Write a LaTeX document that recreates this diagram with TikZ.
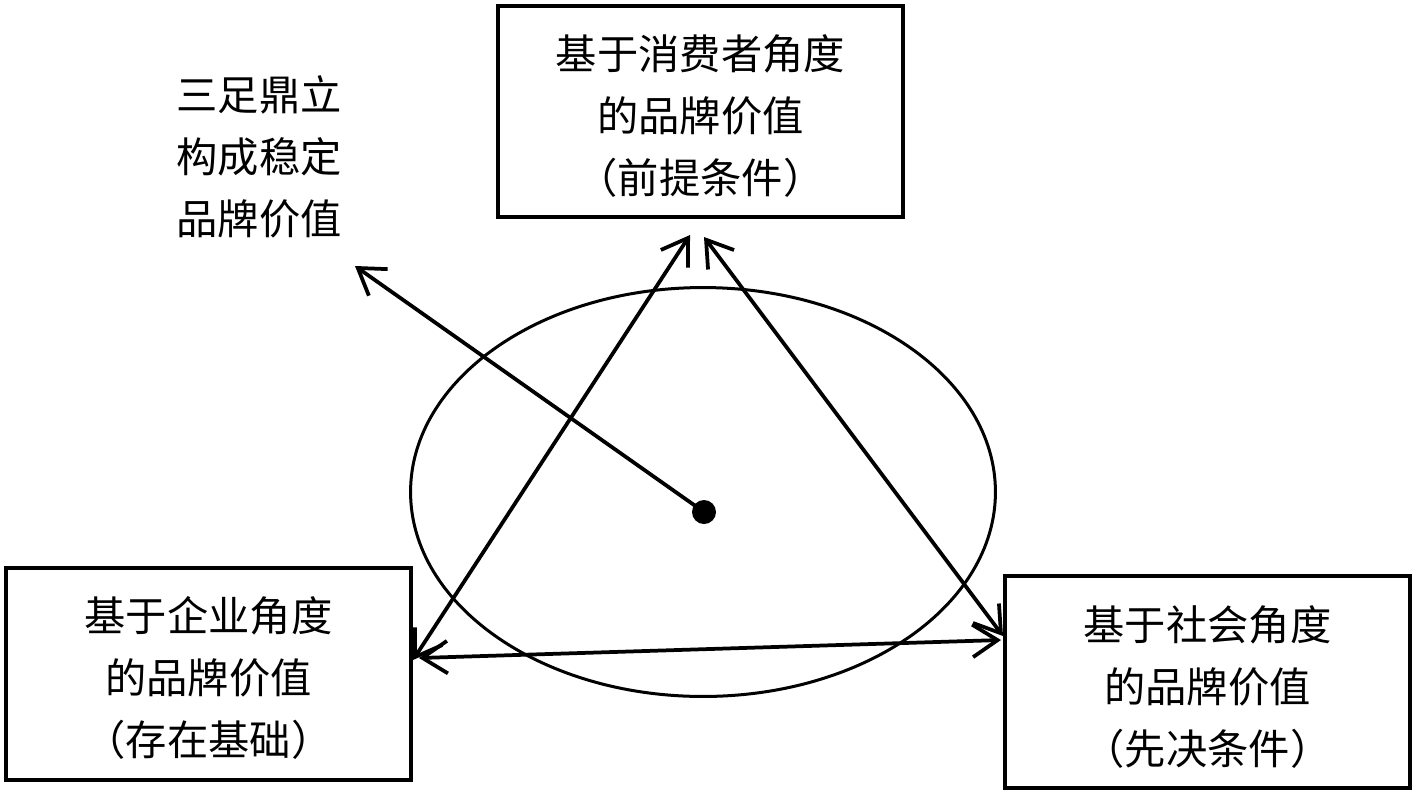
\documentclass[tikz,border=0pt]{standalone}
\usepackage{fontspec}
\newfontfamily\cjk{Noto Sans CJK SC}
\usetikzlibrary{arrows.meta}
\begin{document}
\begin{tikzpicture}[x=0.02cm,y=-0.02cm,
  cjkfont/.style={font=\cjk\fontsize{23.5}{35.4}\selectfont},
  box/.style={draw, line width=0.8mm, inner sep=0pt, minimum width=8.1cm, minimum height=4.24cm},
  lbl/.style={inner sep=0pt, align=center, cjkfont},
  link/.style={line width=0.75mm, {Straight Barb[length=5mm,width=6.5mm]}-{Straight Barb[length=5mm,width=6.5mm]}},
  one/.style={line width=0.75mm, -{Straight Barb[length=5mm,width=6.5mm]}}]
\useasboundingbox (0,0) rectangle (1417,796);
% ellipse
\draw[line width=0.6mm] (703,492) ellipse [x radius=5.85cm, y radius=4.09cm];
% boxes
\node[box] (T) at (700.5,111.5) {};
\node[box] (L) at (208.5,674) {};
\node[box] (R) at (1207.5,682) {};
\node[lbl] (Tt) at (700.5,116) {基于消费者角度\\的品牌价值\\（前提条件）};
\node[lbl] (Lt) at (208.5,678) {基于企业角度\\的品牌价值\\（存在基础）};
\node[lbl] (Rt) at (1207.5,687) {基于社会角度\\的品牌价值\\（先决条件）};
% label
\node[lbl] (Q) at (259,157) {三足鼎立\\构成稳定\\品牌价值};
% dot
\node[circle, fill=black, inner sep=0pt, minimum size=0.48cm] (D) at (704,512) {};
% arrow end points
\coordinate (tA) at (690,235);
\coordinate (lA) at (413,660);
\coordinate (tB) at (704,237);
\coordinate (rB) at (1003,636);
\coordinate (lC) at (419,658);
\coordinate (rC) at (1001,640);
\coordinate (P) at (355,266);
% connectors
\draw[link] (tA) -- (lA);
\draw[link] (tB) -- (rB);
\draw[link] (lC) -- (rC);
\draw[one] (D.center) -- (P);
\end{tikzpicture}
\end{document}
